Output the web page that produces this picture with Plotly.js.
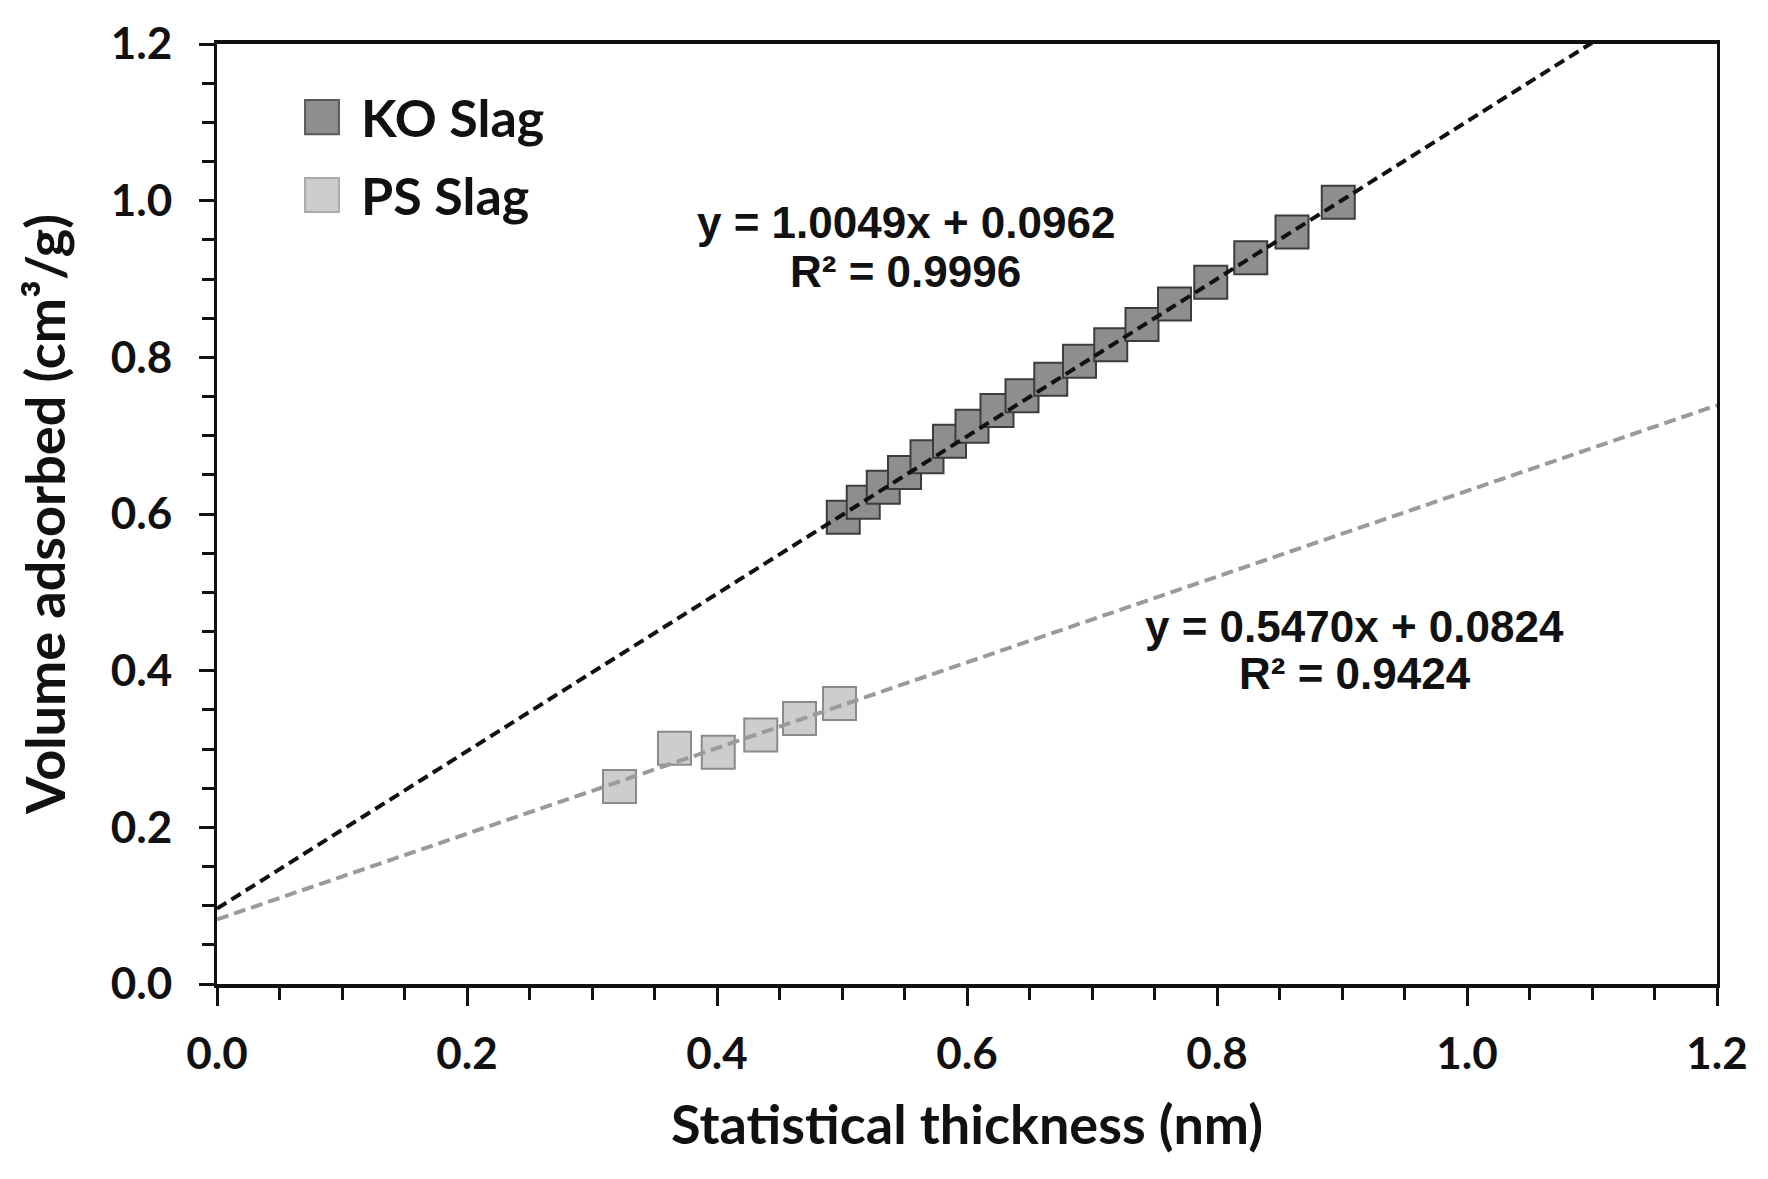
<!DOCTYPE html>
<html>
<head>
<meta charset="utf-8">
<script src="https://cdn.plot.ly/plotly-3.0.1.min.js"></script>
<style>
    html, body { margin: 0; padding: 0; background: #fff; }
    #chart { width: 1768px; height: 1179px; }
</style>
</head>
<body>
<div id="chart"></div>
<script>
// KO Slag points
const koX = [0.501, 0.517, 0.533, 0.550, 0.568, 0.586, 0.604, 0.624, 0.644, 0.667, 0.690, 0.715, 0.740, 0.766, 0.795, 0.827, 0.860, 0.897]
const koY = [0.596, 0.615, 0.634, 0.653, 0.673, 0.693, 0.712, 0.732, 0.751, 0.772, 0.795, 0.816, 0.842, 0.868, 0.896, 0.927, 0.960, 0.998]

// PS Slag points
const psX = [0.322, 0.366, 0.401, 0.435, 0.466, 0.498]
const psY = [0.252, 0.301, 0.296, 0.318, 0.339, 0.358]

// linear fits as printed on the chart
const fitNames = ['KO Slag', 'PS Slag']
const fitSlopes = [1.0049, 0.5470]
const fitIntercepts = [0.0962, 0.0824]
const fitR2 = ['0.9996', '0.9424']
const fitRange = [0, 1.2]

const titleFont = { family: 'Lato, "Open Sans", sans-serif', size: 54, color: '#111', weight: 700 }
const legendFont = { family: 'Lato, "Open Sans", sans-serif', size: 52, color: '#111', weight: 700 }
const tickFont = { family: 'Lato, "Open Sans", sans-serif', size: 44, color: '#111', weight: 700 }
const eqFont = { family: '"Liberation Sans", Arial, sans-serif', size: 44, color: '#111', weight: 700 }

function fitTrace(i, color, dash) {
    const x = fitRange
    const y = x.map(v => fitSlopes[i] * v + fitIntercepts[i])
    return {
        x,
        y,
        mode: 'lines',
        name: fitNames[i] + ' fit',
        line: { color, width: 4, dash },
        hoverinfo: 'skip',
        showlegend: false
    }
}

function plotChart() {
    const chart = document.getElementById('chart')

    const koTrace = {
        x: koX,
        y: koY,
        mode: 'markers',
        name: 'KO Slag',
        marker: { symbol: 'square', size: 33, color: '#8e8e8e', line: { color: '#3c3c3c', width: 2 } },
        showlegend: false
    }
    const psTrace = {
        x: psX,
        y: psY,
        mode: 'markers',
        name: 'PS Slag',
        marker: { symbol: 'square', size: 33, color: '#cdcdcd', line: { color: '#8a8a8a', width: 2 } },
        showlegend: false
    }

    const data = [
        psTrace,
        koTrace,
        fitTrace(1, '#9a9a9a', '12px,6px'),
        fitTrace(0, '#111111', '11px,6px')
    ]

    // hand made legend (plotly caps legend marker size at 16px)
    const legendShapes = [
        { type: 'rect', xref: 'paper', yref: 'paper', x0: 0.0587, x1: 0.0813, y0: 0.904, y1: 0.9404,
          fillcolor: '#8e8e8e', line: { color: '#5a5a5a', width: 2 } },
        { type: 'rect', xref: 'paper', yref: 'paper', x0: 0.0587, x1: 0.0813, y0: 0.8213, y1: 0.8574,
          fillcolor: '#cdcdcd', line: { color: '#aaaaaa', width: 2 } }
    ]

    const annotations = [
        { xref: 'paper', yref: 'paper', x: 0.0947, y: 0.9223, xanchor: 'left', yanchor: 'middle',
          text: 'KO Slag', showarrow: false, font: legendFont },
        { xref: 'paper', yref: 'paper', x: 0.0947, y: 0.8394, xanchor: 'left', yanchor: 'middle',
          text: 'PS Slag', showarrow: false, font: legendFont },
        { x: 0.551, y: 0.972, text: `y = ${fitSlopes[0].toFixed(4)}x + ${fitIntercepts[0].toFixed(4)}`,
          showarrow: false, font: eqFont, xanchor: 'center', yanchor: 'middle' },
        { x: 0.551, y: 0.909, text: `R² = ${fitR2[0]}`,
          showarrow: false, font: eqFont, xanchor: 'center', yanchor: 'middle' },
        { x: 0.910, y: 0.457, text: `y = ${fitSlopes[1].toFixed(4)}x + ${fitIntercepts[1].toFixed(4)}`,
          showarrow: false, font: eqFont, xanchor: 'center', yanchor: 'middle' },
        { x: 0.910, y: 0.396, text: `R² = ${fitR2[1]}`,
          showarrow: false, font: eqFont, xanchor: 'center', yanchor: 'middle' }
    ]

    const layout = {
        width: 1768,
        height: 1179,
        margin: { l: 217, r: 51, t: 44, b: 195 },
        paper_bgcolor: '#ffffff',
        plot_bgcolor: '#ffffff',
        showlegend: false,
        xaxis: {
            title: { text: 'Statistical thickness (nm)', font: titleFont, standoff: 30 },
            range: [0, 1.2],
            dtick: 0.2,
            tickformat: '.1f',
            tickfont: tickFont,
            ticks: 'outside',
            ticklen: 18,
            tickwidth: 3,
            tickcolor: '#111',
            ticklabelstandoff: 10,
            minor: { dtick: 0.05, ticks: 'outside', ticklen: 12, tickwidth: 3, tickcolor: '#111' },
            showline: true,
            linewidth: 4,
            linecolor: '#111',
            mirror: true,
            showgrid: false,
            zeroline: false
        },
        yaxis: {
            title: { text: 'Volume adsorbed (cm³/g)', font: titleFont, standoff: 28 },
            range: [0, 1.2],
            dtick: 0.2,
            tickformat: '.1f',
            tickfont: tickFont,
            ticks: 'outside',
            ticklen: 15,
            tickwidth: 3,
            tickcolor: '#111',
            ticklabelstandoff: 18,
            minor: { dtick: 0.05, ticks: 'outside', ticklen: 12, tickwidth: 3, tickcolor: '#111' },
            showline: true,
            linewidth: 3,
            linecolor: '#111',
            mirror: true,
            showgrid: false,
            zeroline: false
        },
        shapes: legendShapes,
        annotations
    }

    Plotly.newPlot(chart, data, layout, { staticPlot: true })
}

plotChart()
</script>
</body>
</html>
